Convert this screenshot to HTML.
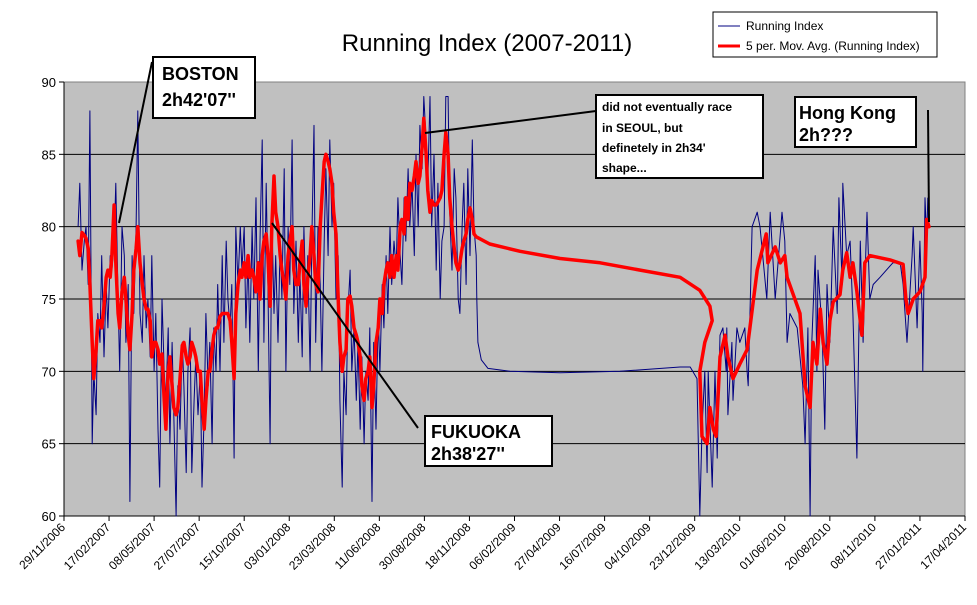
<!DOCTYPE html>
<html><head><meta charset="utf-8"><style>
body{margin:0;background:#fff;}
svg text{font-family:"Liberation Sans",Arial,sans-serif;}
</style></head><body>
<svg id="chart" width="977" height="600" viewBox="0 0 977 600" xmlns="http://www.w3.org/2000/svg">
<text x="487" y="51" text-anchor="middle" font-size="24">Running Index (2007-2011)</text>
<rect x="64" y="82" width="901" height="434" fill="#C0C0C0" stroke="#808080" stroke-width="1"/>
<g id="grid"></g>
<g id="yaxis"></g>
<g id="xaxis"></g>
<g id="series"></g>
<g>
<rect x="713" y="12" width="224" height="45" fill="#fff" stroke="#000" stroke-width="1"/>
<line x1="718" y1="26" x2="740" y2="26" stroke="#000080" stroke-width="1"/>
<text x="746" y="30" font-size="12">Running Index</text>
<line x1="718" y1="46" x2="740" y2="46" stroke="#FF0000" stroke-width="3"/>
<text x="746" y="50" font-size="12">5 per. Mov. Avg. (Running Index)</text>
</g>
<g>
<line x1="152" y1="62" x2="119" y2="223" stroke="#000" stroke-width="2"/>
<rect x="153" y="57" width="102" height="61" fill="#fff" stroke="#000" stroke-width="2"/>
<text x="162" y="80" font-size="18" font-weight="bold">BOSTON</text>
<text x="162" y="106" font-size="18" font-weight="bold">2h42'07''</text>
<line x1="272" y1="223" x2="418" y2="428" stroke="#000" stroke-width="2"/>
<rect x="425" y="416" width="127" height="50" fill="#fff" stroke="#000" stroke-width="2"/>
<text x="431" y="438" font-size="18" font-weight="bold">FUKUOKA</text>
<text x="431" y="460" font-size="18" font-weight="bold">2h38'27''</text>
<line x1="425" y1="133" x2="596" y2="111" stroke="#000" stroke-width="2"/>
<rect x="596" y="95" width="167" height="83" fill="#fff" stroke="#000" stroke-width="2"/>
<text x="602" y="111" font-size="12" font-weight="bold">did not eventually race</text>
<text x="602" y="132" font-size="12" font-weight="bold">in SEOUL, but</text>
<text x="602" y="152" font-size="12" font-weight="bold">definetely in 2h34'</text>
<text x="602" y="172" font-size="12" font-weight="bold">shape...</text>
<line x1="928" y1="110" x2="929" y2="222" stroke="#000" stroke-width="2"/>
<rect x="795" y="97" width="121" height="50" fill="#fff" stroke="#000" stroke-width="2"/>
<text x="799" y="119" font-size="18" font-weight="bold">Hong Kong</text>
<text x="799" y="141" font-size="18" font-weight="bold">2h???</text>
</g>
</svg>
<script>
const yTicks=[60,65,70,75,80,85,90];
const xTickLabels=["29/11/2006","17/02/2007","08/05/2007","27/07/2007","15/10/2007","03/01/2008","23/03/2008","11/06/2008","30/08/2008","18/11/2008","06/02/2009","27/04/2009","16/07/2009","04/10/2009","23/12/2009","13/03/2010","01/06/2010","20/08/2010","08/11/2010","27/01/2011","17/04/2011"];
const xTickDays=[0,80,160,240,320,400,480,560,640,720,800,880,960,1040,1120,1200,1280,1360,1440,1520,1600];
// days since 29/11/2006, dense period (shared by both series)
const denseDays=[25,28,32,36,39,43,46,50,53,57,60,64,67,71,75,78,82,85,89,92,96,99,103,107,110,114,117,121,124,128,131,135,139,142,146,149,153,156,160,163,167,170,174,178,181,185,188,192,195,199,202,206,210,213,217,220,224,227,231,234,238,242,245,249,252,256,259,263,266,270,273,277,281,284,288,291,295,298,302,305,309,313,316,320,323,327,330,334,337,341,345,348,352,355,359,362,366,369,373,376,380,384,387,391,394,398,401,405,408,412,416,419,423,426,430,433,437,440,444,447,451,455,458,462,465,469,472,476,479,483,487,490,494,497,501,504,508,511,515,519,522,526,529,533,536,540,543,547,550,554,558,561,565,568,572,575,579,582,586,590,593,597,600,604,607,611,614,618,622,625,629,632,636,639,643,646,650,653,657,661,664,668,671,675,678,682,685,689,693,696,700,703,707,710,714,717,721,725,728];
const denseIndex=[80,83,77,79,80,76,88,65,70,67,74,72,78,71,76,73,78,77,79,83,75,70,80,78,72,76,61,78,74,80,88,74,72,78,73,75,71,78,70,74,66,62,75,70,68,73,65,72,67,60,69,66,72,69,63,70,73,63,68,71,67,70,62,67,74,69,72,65,73,70,76,70,78,72,79,75,73,76,64,80,76,80,77,80,73,78,72,80,75,82,70,79,86,72,83,76,65,81,74,78,72,79,75,84,70,80,76,86,74,79,72,77,71,80,74,78,70,79,87,72,80,76,70,79,84,78,86,80,83,75,78,68,62,70,67,74,77,70,73,68,72,66,71,65,70,68,73,61,72,66,74,70,76,73,78,74,80,76,79,77,82,78,76,82,79,84,80,83,78,85,80,87,84,89,86,83,89,80,85,77,83,75,79,80,89,89,81,77,84,82,75,74,80,83,76,84,78,86,80];
const denseAvg=[79,78,79.6,79.4,79.2,78.5,76,72,69.5,71.5,73.5,73.5,73,74.5,76.5,77,76.5,78,81.5,77.5,74,73,75.5,76.5,75,72.5,71.5,74,77,78.5,80,77.5,76,75,74.3,74.3,73.5,71,72,72,71.5,70.5,71.2,68,66,70,71,69,67.5,67,67.5,69.5,71.8,72,71,70.5,71,72,71.5,71,70,70,68,66,68,70,70,71.5,72.5,73,73,73.8,74,74,74,74,73.5,72,69.5,74,76,77,76.5,77.5,76.5,78,76.5,77,76.5,75.5,77.5,75,78,79,79.5,78,74.5,80,83.5,81,80,78,77,76,75,78,79,80,77,76,76,77.5,79,76,74.5,76.5,78,80,78,76,75.5,80,82,84.5,85,84.5,84,83,81,79.5,75,72,70,71,71.5,75,75.2,74.5,73,72.5,72,71,69,68,69.5,70,71,67.5,69,72,73,75,74,76,77,77.5,76.5,78,76.5,78,77,80,80.5,79.5,82,80.5,83,82.5,83.5,84.5,83,83.5,85.5,87.5,85,82.5,81,81.8,81.5,81.5,81.7,82,82.5,85,86.5,85,82,80,78.5,77.5,77,77.5,78.5,79,79.5,80.5,81.3,80.5,79.5];
const tailIndexDays=[732,733,735,741,753,792,881,987,1094,1112,1124,1129,1133,1138,1142,1144,1151,1156,1160,1165,1170,1176,1177,1179,1186,1188,1195,1200,1209,1213,1215,1222,1231,1236,1248,1254,1263,1275,1280,1284,1289,1302,1312,1316,1321,1325,1328,1334,1337,1339,1346,1351,1355,1360,1366,1373,1376,1382,1383,1390,1396,1401,1408,1414,1419,1426,1431,1437,1449,1472,1485,1490,1497,1506,1508,1515,1520,1524,1525,1529,1532,1534];
const tailIndex=[78,75,72,70.8,70.2,70,69.9,70,70.3,70.3,69.5,60,66,70,63,70,62,70,64,72.5,73,70,73,67,72,68,73,72,73,70,69,80,81,80,75,81,75,81,79,72,74,73,69,65,73,60,72,78,70,77,73,66,76,72,80,74,82,76,83,78,79,74,64,79,72,81,75,76,76.5,77.5,77.5,76,72,78,80,73,79,74,70,82,79,82];
const tailAvgDays=[732,756,810,881,952,1023,1094,1129,1147,1151,1138,1129,1133,1142,1147,1153,1158,1165,1174,1179,1188,1200,1213,1218,1231,1247,1250,1263,1272,1280,1284,1307,1316,1325,1330,1337,1343,1348,1355,1360,1366,1378,1383,1390,1396,1401,1408,1417,1422,1431,1467,1490,1495,1499,1508,1520,1529,1532,1536];
const tailAvg=[79.3,78.8,78.3,77.8,77.5,77,76.5,75.6,74.5,73.5,72,70,65.5,65,67.5,66,65.5,71,72.5,71,69.5,70.5,71.5,73,77,79.5,77.5,78.6,77.5,78,76.5,74,69,67.5,72,70.5,74.3,72,70.5,73.5,74.8,75.3,77,78.2,76.5,77.5,75.5,72.5,77.5,78,77.7,77.4,75,74,75,75.5,76.5,80.5,80];

const NS="http://www.w3.org/2000/svg";
const X0=64,X1=965,Y0=516,Y1=82,DMAX=1600,VMIN=60,VMAX=90;
function xs(d){return X0+(d/DMAX)*(X1-X0);}
function ys(v){return Y0-(v-VMIN)/(VMAX-VMIN)*(Y0-Y1);}
function mk(tag,attrs,parent){const e=document.createElementNS(NS,tag);for(const k in attrs)e.setAttribute(k,attrs[k]);parent.appendChild(e);return e;}
const grid=document.getElementById('grid'),yax=document.getElementById('yaxis'),xax=document.getElementById('xaxis'),ser=document.getElementById('series');
yTicks.forEach(v=>{
  const y=ys(v);
  if(v>VMIN&&v<VMAX){const g=mk('line',{x1:X0,x2:X1,y1:y,y2:y,stroke:'#000','stroke-width':1},grid);
  
  }
  const tk=mk('line',{x1:X0-5,x2:X0,y1:y,y2:y,stroke:'#000'},yax);
  
  
  const t=mk('text',{x:X0-8,y:y+5,'text-anchor':'end','font-size':13},yax);
  t.textContent=v;
  
  
});
const ya=mk('line',{x1:X0,x2:X0,y1:Y1,y2:Y0,stroke:'#000'},yax);


const xa=mk('line',{x1:X0,x2:X1,y1:Y0,y2:Y0,stroke:'#000'},xax);


xTickDays.forEach((d,i)=>{
  const x=xs(d);
  const tk=mk('line',{x1:x,x2:x,y1:Y0,y2:Y0+5,stroke:'#000'},xax);
  
  
  const t=mk('text',{x:x+2,y:Y0+12,'text-anchor':'end','font-size':12,transform:'rotate(-45 '+(x+2)+' '+(Y0+12)+')'},xax);
  t.textContent=xTickLabels[i];
  
  
});
function pathOf(days,vals){return days.map((d,i)=>(i?'L':'M')+xs(d).toFixed(1)+' '+ys(Math.max(VMIN,Math.min(VMAX,vals[i]))).toFixed(1)).join(' ');}
const ri=mk('path',{d:pathOf(denseDays.concat(tailIndexDays),denseIndex.concat(tailIndex)),fill:'none',stroke:'#000080','stroke-width':1,'stroke-linejoin':'round'},ser);


const ma=mk('path',{d:pathOf(denseDays.concat(tailAvgDays),denseAvg.concat(tailAvg)),fill:'none',stroke:'#FF0000','stroke-width':3.5,'stroke-linejoin':'round','stroke-linecap':'round'},ser);


</script>
</body></html>
